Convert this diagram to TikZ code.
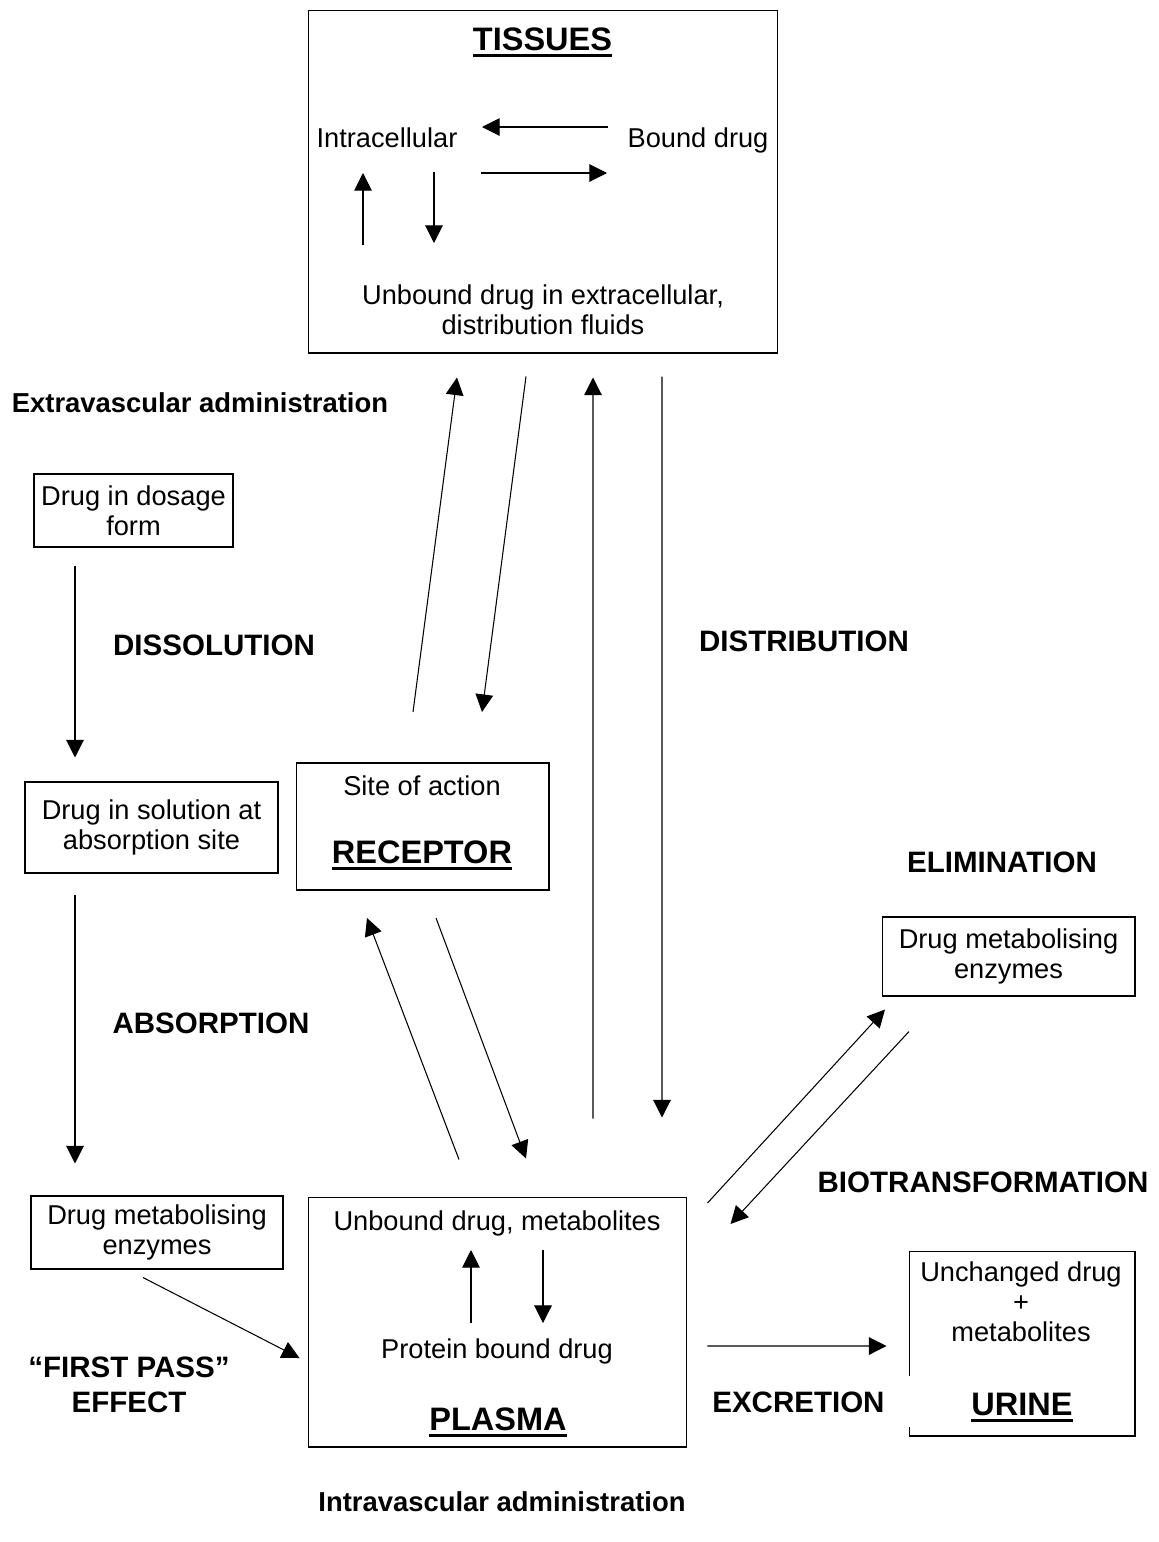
\documentclass[tikz,border=0pt]{standalone}
\usepackage{fontspec}
\setmainfont{Liberation Sans}
\usetikzlibrary{arrows.meta}
\newcommand{\normaltxt}{\fontsize{15.5}{17.2}\selectfont}
\newcommand{\undertitle}[1]{\setbox0\hbox{#1}\rlap{\rule[-4pt]{\wd0}{1.7pt}}\box0}
\tikzset{
  box/.style={draw=black, line width=0.6pt, inner sep=0pt, align=center, font=\normaltxt},
  txt/.style={inner sep=0pt, font=\normaltxt},
  ttl/.style={inner sep=0pt, font=\fontsize{18.5}{22}\selectfont\bfseries},
  lbl/.style={inner sep=0pt, font=\fontsize{16.8}{20}\selectfont\bfseries},
  sub/.style={inner sep=0pt, font=\fontsize{15.6}{18}\selectfont\bfseries},
  arr/.style={-{Triangle[length=10pt,width=10pt]}, line width=0.6pt}
}
\begin{document}
\begin{tikzpicture}[x=0.02cm, y=-0.02cm]
	\useasboundingbox (0,0) rectangle (1159,1542);
	\node[box, minimum width=9.4cm, minimum height=6.86cm] (tissues) at (543,181.5) {};
	\node[ttl, anchor=base] (tistitle) at (542.5,50) {\undertitle{TISSUES}};
	\node[txt, anchor=base] (intra) at (387,147) {Intracellular};
	\node[txt, anchor=base] (bound) at (698,147) {Bound drug};
	\node[txt, align=center] (extra) at (543,310) {Unbound drug in extracellular,\\distribution fluids};
	\draw[arr] ([shift={(-90,-20)}]bound.base) -- ([shift={(95,-20)}]intra.base);
	\draw[arr] ([shift={(94,26)}]intra.base) -- ([shift={(-91,26)}]bound.base);
	\draw[arr] ([shift={(-180,-65)}]extra.center) -- ([shift={(-24,26)}]intra.base);
	\draw[arr] ([shift={(47,25)}]intra.base) -- ([shift={(-109,-67)}]extra.center);

	\node[box, minimum width=3.98cm, minimum height=1.46cm] (dosage) at (133.5,510.5) {Drug in dosage\\form};
	\node[box, minimum width=5.06cm, minimum height=1.82cm] (solution) at (151.5,827.5) {Drug in solution at\\absorption site};
	\node[box, minimum width=5.04cm, minimum height=1.46cm] (enzleft) at (157,1232.5) {Drug metabolising\\enzymes};
	\node[box, minimum width=5.06cm, minimum height=2.54cm] (receptor) at (422.5,826.5) {};
	\node[txt, anchor=base] (site) at (422,795) {Site of action};
	\node[ttl, anchor=base] (rectitle) at (422,863) {\undertitle{RECEPTOR}};

	\node[box, minimum width=7.58cm, minimum height=5cm] (plasma) at (497.5,1322) {};
	\node[txt, anchor=base] (unbplasma) at (497,1230) {Unbound drug, metabolites};
	\node[txt, anchor=base] (protein) at (497,1358) {Protein bound drug};
	\node[ttl, anchor=base] (plastitle) at (498,1430) {\undertitle{PLASMA}};
	\draw[arr] ([shift={(-26,-35)}]protein.base) -- ([shift={(-26,20)}]unbplasma.base);
	\draw[arr] ([shift={(46,20)}]unbplasma.base) -- ([shift={(46,-35)}]protein.base);

	\node[box, minimum width=5.06cm, minimum height=1.58cm] (enzright) at (1008.5,956.5) {Drug metabolising\\enzymes};
	\node[box, minimum width=4.52cm, minimum height=3.7cm] (urine) at (1022,1343.5) {};
	\node[txt, align=center] (unchanged) at (1021,1302) {Unchanged drug\\+\\metabolites};
	\node[ttl, anchor=base] (urinetitle) at (1022,1415) {\undertitle{URINE}};

	\node[sub, anchor=base] (extravas) at (200,412) {Extravascular administration};
	\node[lbl, anchor=base] (dissol) at (214,655) {DISSOLUTION};
	\node[lbl, anchor=base] (absorp) at (211,1033) {ABSORPTION};
	\node[lbl, anchor=base] (distrib) at (804,651) {DISTRIBUTION};
	\node[lbl, anchor=base] (elim) at (1002,872) {ELIMINATION};
	\node[lbl, anchor=base] (biotrans) at (983,1192) {BIOTRANSFORMATION};
	\node[lbl, align=center] (firstpass) at (129,1384.5) {“FIRST PASS”\\EFFECT};
	\node[lbl, fill=white, inner ysep=0.3cm, anchor=base west] (excr) at (712,1412) {EXCRETION\kern0.7cm};
	\node[sub, anchor=base] (intravas) at (502,1511) {Intravascular administration};

	\draw[arr] ([shift={(-58.5,18)}]dosage.south) -- ([shift={(-76.5,-24)}]solution.north);
	\draw[arr] ([shift={(-76.5,21)}]solution.south) -- ([shift={(-82,-32)}]enzleft.north);
	\draw[arr] ([shift={(-14,8)}]enzleft.south) -- ([shift={(-8,36)}]plasma.west);
	\draw[arr] ([shift={(-9.5,-50.5)}]receptor.north) -- ([shift={(-86,24)}]tissues.south);
	\draw[arr] ([shift={(-17,23)}]tissues.south) -- ([shift={(59.5,-50.5)}]receptor.north);
	\draw[arr] ([shift={(95.5,-78)}]plasma.north) -- ([shift={(50,24)}]tissues.south);
	\draw[arr] ([shift={(119,23)}]tissues.south) -- ([shift={(164.5,-79)}]plasma.north);
	\draw[arr] ([shift={(-38.5,-37)}]plasma.north) -- ([shift={(-55.5,27.5)}]receptor.south);
	\draw[arr] ([shift={(13.5,27.5)}]receptor.south) -- ([shift={(28.5,-38)}]plasma.north);
	\draw[arr] ([shift={(20,-119)}]plasma.east) -- ([shift={(-123.5,13)}]enzright.south);
	\draw[arr] ([shift={(-99.5,35)}]enzright.south) -- ([shift={(43,-98)}]plasma.east);
	\draw[arr] ([shift={(20,24)}]plasma.east) -- ([shift={(-22,2.5)}]urine.west);
\end{tikzpicture}
\end{document}
